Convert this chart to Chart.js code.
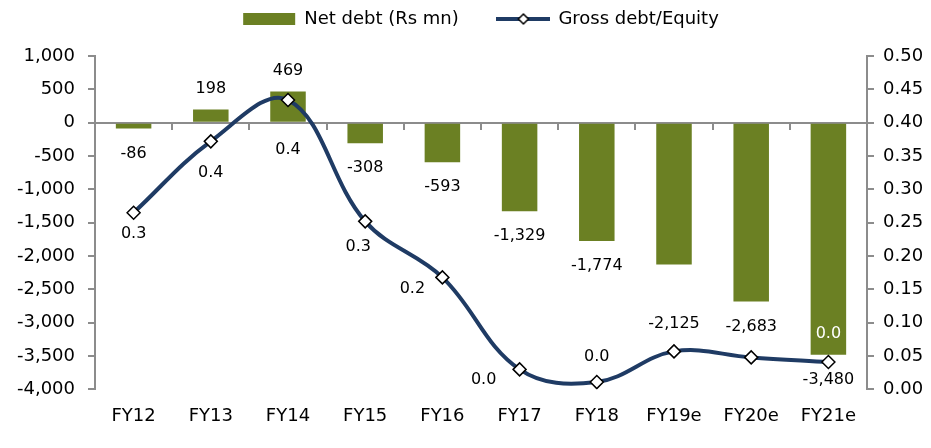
<!DOCTYPE html>
<html>
<head>
<meta charset="utf-8">
<script src="https://cdn.jsdelivr.net/npm/chart.js@4/dist/chart.umd.min.js"></script>
<style>
  body { margin: 0; background: #fff; }
  #wrap { width: 931px; height: 448px; position: relative; }
</style>
</head>
<body>
<div id="wrap"><canvas id="chart"></canvas></div>
<script>
const years = ['FY12', 'FY13', 'FY14', 'FY15', 'FY16', 'FY17', 'FY18', 'FY19e', 'FY20e', 'FY21e']
const netDebt = [-86, 198, 469, -308, -593, -1329, -1774, -2125, -2683, -3480]
const grossDebtEquity = [0.265, 0.372, 0.434, 0.252, 0.168, 0.030, 0.011, 0.057, 0.048, 0.041]

const olive = '#6b8023'
const navy = '#1f3b64'
const axisGrey = '#8c8c8c'

Chart.defaults.font.family = '"DejaVu Sans", Verdana, sans-serif'
Chart.defaults.color = '#000'

// legend icon for the line series: stroke with a diamond marker
const lineIcon = document.createElement('canvas')
lineIcon.width = 54
lineIcon.height = 14
const g = lineIcon.getContext('2d')
g.strokeStyle = navy
g.lineWidth = 4
g.beginPath(); g.moveTo(0, 7); g.lineTo(54, 7); g.stroke()
g.fillStyle = '#fff'
g.strokeStyle = '#000'
g.lineWidth = 1.5
g.beginPath(); g.moveTo(27, 2); g.lineTo(32, 7); g.lineTo(27, 12); g.lineTo(22, 7); g.closePath()
g.fill(); g.stroke()

// data labels drawn next to bars and points
const valueLabels = {
  id: 'valueLabels',
  afterDatasetsDraw(chart, args, opts) {
    const ctx = chart.ctx
    ctx.save()
    ctx.font = '16px "DejaVu Sans"'
    ctx.textAlign = 'center'
    ctx.textBaseline = 'middle'

    chart.getDatasetMeta(1).data.forEach((pt, i) => {
      const [dx, dy] = opts.lineOffsets[i]
      ctx.fillStyle = opts.lineColors[i]
      ctx.fillText(grossDebtEquity[i].toFixed(1), pt.x + dx, pt.y + dy)
    })

    chart.getDatasetMeta(0).data.forEach((bar, i) => {
      const v = netDebt[i]
      const dy = (v >= 0 ? -21 : 25) + (opts.barNudge[i] || 0)
      ctx.fillStyle = '#000'
      ctx.fillText(v.toLocaleString('en-US'), bar.x, bar.y + dy)
    })
    ctx.restore()
  }
}

new Chart(document.getElementById('chart'), {
  data: {
    labels: years,
    datasets: [
      {
        type: 'bar',
        label: 'Net debt (Rs mn)',
        data: netDebt,
        yAxisID: 'y',
        backgroundColor: olive,
        borderWidth: 0,
        barPercentage: 0.46,
        categoryPercentage: 1,
        order: 1
      },
      {
        type: 'line',
        label: 'Gross debt/Equity',
        data: grossDebtEquity,
        yAxisID: 'y1',
        borderColor: navy,
        borderWidth: 4,
        tension: 0.38,
        pointStyle: 'rectRot',
        pointRadius: 6.5,
        pointBackgroundColor: '#fff',
        pointBorderColor: '#000',
        pointBorderWidth: 1.5,
        order: 0
      }
    ]
  },
  options: {
    responsive: true,
    maintainAspectRatio: false,
    animation: false,
    layout: { padding: { left: 0, right: 0, top: 0, bottom: 5 } },
    plugins: {
      tooltip: { enabled: false },
      legend: {
        position: 'top',
        fullSize: false,
        labels: {
          usePointStyle: true,
          pointStyleWidth: 52,
          boxHeight: 12,
          padding: 10,
          font: { size: 18 },
          color: '#000',
          generateLabels(chart) {
            const items = Chart.defaults.plugins.legend.labels.generateLabels(chart)
            items.sort((a, b) => a.datasetIndex - b.datasetIndex)
            items.forEach(it => {
              if (it.datasetIndex === 0) {
                it.pointStyle = 'rect'
                it.fillStyle = olive
                it.lineWidth = 0
                it.text = it.text + '     '
              } else {
                it.pointStyle = lineIcon
              }
            })
            return items
          }
        }
      },
      subtitle: {
        display: true,
        text: '',
        weight: 900,
        padding: 0,
        font: { size: 15, lineHeight: 1.2 }
      },
      valueLabels: {
        lineOffsets: [[0, 21], [0, 31], [0, 50], [-7, 25], [-30, 11], [-36, 10], [0, -25], [0, -28], [0, -30], [0, -28]],
        lineColors: ['#000', '#000', '#000', '#000', '#000', '#000', '#000', '#fff', '#fff', '#fff'],
        barNudge: { 7: 34 }
      }
    },
    scales: {
      x: {
        position: 'bottom',
        grid: { display: false, drawTicks: false },
        border: { display: false },
        ticks: { font: { size: 18 }, padding: 16, color: '#000' }
      },
      x2: {
        type: 'category',
        position: { y: 0 },
        offset: true,
        grid: { offset: true, drawOnChartArea: false, drawTicks: true, tickLength: 6, color: axisGrey, lineWidth: 2 },
        border: { color: axisGrey, width: 2 },
        ticks: { display: false }
      },
      y: {
        position: 'left',
        min: -4000,
        max: 1000,
        afterFit: s => { s.width = 95 },
        grid: { drawOnChartArea: false, tickLength: 7, color: axisGrey, lineWidth: 2 },
        border: { color: axisGrey, width: 2 },
        ticks: {
          stepSize: 500,
          padding: 13,
          font: { size: 18 },
          color: '#000',
          callback: v => v.toLocaleString('en-US')
        }
      },
      y1: {
        position: 'right',
        min: 0,
        max: 0.5,
        afterFit: s => { s.width = 64 },
        grid: { drawOnChartArea: false, tickLength: 7, color: axisGrey, lineWidth: 2 },
        border: { color: axisGrey, width: 2 },
        ticks: {
          stepSize: 0.05,
          padding: 9,
          font: { size: 18 },
          color: '#000',
          callback: v => v.toFixed(2)
        }
      }
    }
  },
  plugins: [valueLabels]
})
</script>
</body>
</html>
